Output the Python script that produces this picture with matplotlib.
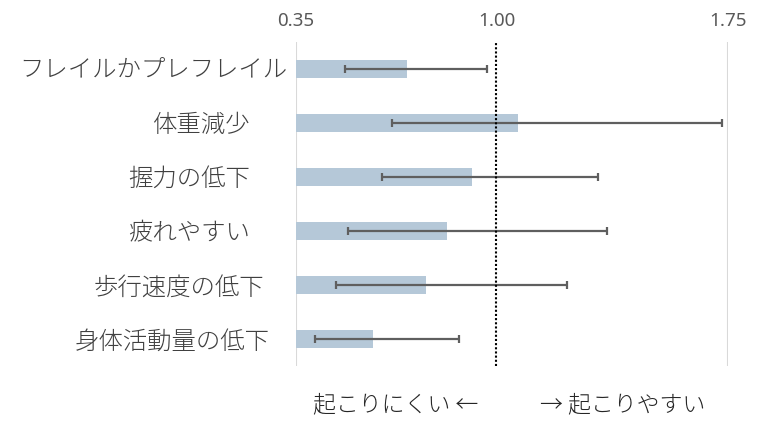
import matplotlib.pyplot as plt
import numpy as np

plt.rcParams['font.family'] = ['Noto Sans CJK JP', 'DejaVu Sans']

# Data (odds ratio style: point estimate with lower / upper bound)
categories = ['フレイルかプレフレイル', '体重減少', '握力の低下',
              '疲れやすい', '歩行速度の低下', '身体活動量の低下']
estimate = [0.71, 1.07, 0.92, 0.84, 0.77, 0.60]
lower = [0.51, 0.66, 0.63, 0.52, 0.48, 0.41]
upper = [0.97, 1.73, 1.33, 1.36, 1.23, 0.88]
xticks = [0.35, 1.00, 1.75]
xtick_labels = ['0.35', '1.00', '1.75']
left_note = '起こりにくい ←'
right_note = '→ 起こりやすい'

# layout: right edge (in figure px) of each category label
label_right_px = [287, 250, 250, 250, 264, 270]

W, H = 762, 435
fig = plt.figure(figsize=(W / 100, H / 100), dpi=100)
ax = fig.add_axes([296 / W, 1 - 367 / H, (727.7 - 296) / W, (367 - 43) / H])

base = xticks[0]
est = np.array(estimate)
lo = np.array(lower)
hi = np.array(upper)
y = np.arange(len(categories))

ax.barh(y, est - base, left=base, height=0.35, color='#b5c8d8', zorder=2)
ax.errorbar(est, y, xerr=[est - lo, hi - est], fmt='none', ecolor='#5f5f5f',
            elinewidth=1.6, capsize=3, capthick=1.6, zorder=3)

for xv in (xticks[0], xticks[-1]):
    ax.axvline(xv, color='#d9d9d9', lw=1.5, zorder=1)
ax.axvline(xticks[1], color='black', lw=1.5, linestyle=(0, (1, 1)), zorder=4)

ax.set_xlim(xticks[0], xticks[-1])
ax.set_ylim(len(categories) - 0.5, -0.5)
ax.xaxis.tick_top()
ax.set_xticks(xticks)
ax.set_xticklabels(xtick_labels, color='#595959', fontsize=13.5,
                   family=['Noto Sans', 'DejaVu Sans'])
ax.tick_params(axis='x', length=0, pad=9)
ax.set_yticks([])
for s in ax.spines.values():
    s.set_visible(False)

for i, lab in enumerate(categories):
    fig.text(label_right_px[i] / W, 1 - (70 + 54.4 * i) / H, lab,
             ha='right', va='center', fontsize=17.6, color='#404040',
             fontweight='light')

fig.text(313 / W, 1 - 405 / H, left_note, ha='left', va='center',
         fontsize=16.5, color='#262626', fontweight='light')
fig.text(540 / W, 1 - 405 / H, right_note, ha='left', va='center',
         fontsize=16.5, color='#262626', fontweight='light')

fig.savefig('out.png', dpi=100)
